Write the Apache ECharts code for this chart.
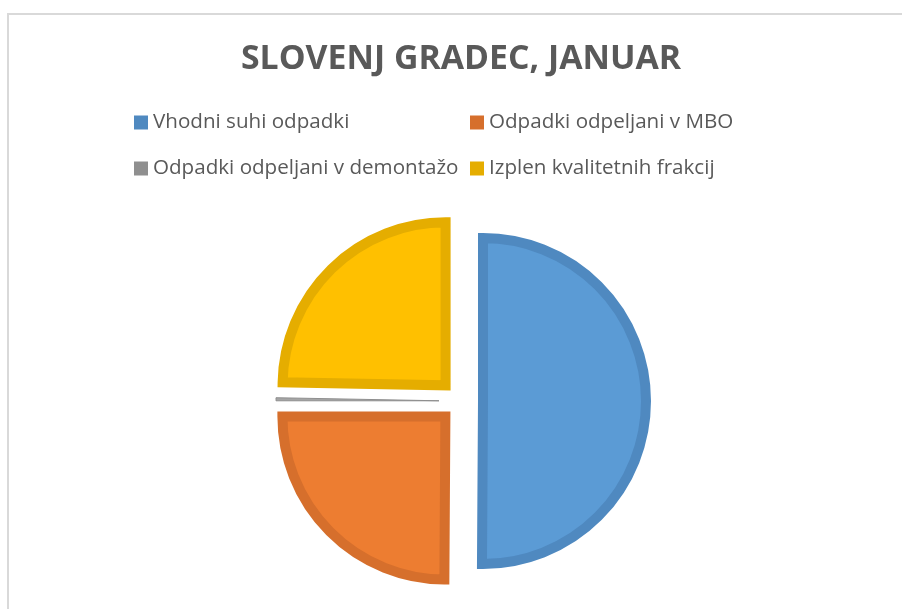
<!DOCTYPE html>
<html>
<head>
<meta charset="utf-8">
<title>Slovenj Gradec, januar</title>
<script src="https://cdn.jsdelivr.net/npm/echarts@6/dist/echarts.min.js"></script>
<style>
  html, body { margin: 0; padding: 0; background: #fff; }
  #chart { width: 902px; height: 609px; }
</style>
</head>
<body>
<div id="chart"></div>
<script>
// data (shares of the month, %)
const categories = [
  'Vhodni suhi odpadki',
  'Odpadki odpeljani v MBO',
  'Odpadki odpeljani v demontažo',
  'Izplen kvalitetnih frakcij'
];
const values = [50.1, 24.9, 0.3, 24.7];
const fillColors = ['#5b9bd5', '#ed7d31', '#a5a5a5', '#ffc000'];
const edgeColors = ['#4f89c0', '#d66f2c', '#8f8f8f', '#e5ad00'];
const legendLeftColumn = [categories[0], categories[2]];
const legendRightColumn = [categories[1], categories[3]];

const TEXT_COLOR = '#595959';
const FONT = '"Open Sans", "Noto Sans", sans-serif';

class PieChart {
  constructor(el) {
    this.el = el;
  }
  initChart() {
    this.chart = echarts.init(this.el, null, { renderer: 'canvas' });
    this.chart.setOption(this.getOption());
  }
  legendItems(names) {
    return names.map(name => {
      const i = categories.indexOf(name);
      return { name: name, itemStyle: { color: edgeColors[i], borderWidth: 0 } };
    });
  }
  getLegend(names, left) {
    return {
      orient: 'vertical',
      left: left,
      top: 112,
      padding: 0,
      itemWidth: 14,
      itemHeight: 14,
      itemGap: 25,
      icon: 'rect',
      selectedMode: false,
      data: this.legendItems(names),
      textStyle: { color: TEXT_COLOR, fontSize: 20.6, fontFamily: FONT }
    };
  }
  getSeriesData() {
    return categories.map((name, i) => ({
      name: name,
      value: values[i],
      selected: true,
      itemStyle: {
        color: fillColors[i],
        borderColor: edgeColors[i],
        borderWidth: i === 2 ? 1 : 10
      }
    }));
  }
  getOption() {
    return {
      animation: false,
      backgroundColor: '#fff',
      title: {
        text: 'SLOVENJ GRADEC, JANUAR',
        left: 241,
        top: 42,
        padding: 0,
        textStyle: { color: TEXT_COLOR, fontSize: 33.8, fontWeight: 'bold', fontFamily: FONT }
      },
      legend: [
        this.getLegend(legendLeftColumn, 134),
        this.getLegend(legendRightColumn, 470)
      ],
      graphic: [{
        type: 'rect',
        silent: true,
        shape: { x: 8, y: 14, width: 1000, height: 1000 },
        style: { fill: null, stroke: '#d9d9d9', lineWidth: 2 }
      }],
      series: [{
        type: 'pie',
        center: [461, 401],
        radius: 163,
        startAngle: 90,
        clockwise: true,
        selectedMode: 'multiple',
        selectedOffset: 22,
        label: { show: false },
        labelLine: { show: false },
        emphasis: { disabled: true },
        itemStyle: { borderJoin: 'miter', borderMiterLimit: 10 },
        data: this.getSeriesData()
      }]
    };
  }
}

const pie = new PieChart(document.getElementById('chart'));
pie.initChart();
</script>
</body>
</html>
